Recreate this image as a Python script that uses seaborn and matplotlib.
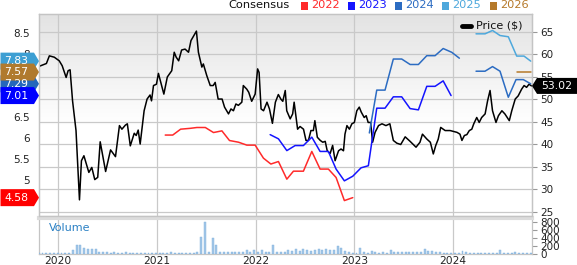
import numpy as np
import pandas as pd
import matplotlib
matplotlib.use("Agg")
import matplotlib.pyplot as plt
import seaborn as sns
from matplotlib.patches import Polygon, Rectangle
from matplotlib.lines import Line2D
from matplotlib.transforms import IdentityTransform

sns.set_theme(style="white")
plt.rcParams['font.family'] = ['DejaVu Sans']

# ---------------- data ----------------
price_t = [2019.81, 2019.88, 2019.91, 2019.96, 2020.01, 2020.04, 2020.08, 2020.10, 2020.12, 2020.145,
           2020.18, 2020.215, 2020.235, 2020.26, 2020.31, 2020.34, 2020.37, 2020.40, 2020.425, 2020.48,
           2020.53, 2020.58, 2020.62, 2020.645, 2020.68, 2020.70, 2020.73, 2020.77, 2020.79, 2020.81,
           2020.83, 2020.87, 2020.90, 2020.93, 2020.945, 2020.965, 2020.995, 2021.015, 2021.07, 2021.105,
           2021.15, 2021.175, 2021.195, 2021.22, 2021.25, 2021.285, 2021.32, 2021.345, 2021.40, 2021.42,
           2021.455, 2021.47, 2021.505, 2021.54, 2021.57, 2021.59, 2021.62, 2021.66, 2021.685, 2021.725,
           2021.75, 2021.775, 2021.80, 2021.825, 2021.86, 2021.875, 2021.91, 2021.93, 2021.96, 2021.995,
           2022.02, 2022.035, 2022.055, 2022.08, 2022.115, 2022.14, 2022.17, 2022.20, 2022.23, 2022.255,
           2022.275, 2022.30, 2022.315, 2022.35, 2022.375, 2022.39, 2022.425, 2022.45, 2022.485, 2022.51,
           2022.535, 2022.56, 2022.585, 2022.60, 2022.625, 2022.655, 2022.68, 2022.705, 2022.725, 2022.755,
           2022.78, 2022.805, 2022.84, 2022.865, 2022.89, 2022.905, 2022.925, 2022.95, 2022.975, 2023.00,
           2023.025, 2023.05, 2023.07, 2023.10, 2023.12, 2023.14, 2023.165, 2023.185, 2023.21, 2023.245,
           2023.28, 2023.32, 2023.36, 2023.395, 2023.43, 2023.47, 2023.515, 2023.565, 2023.625, 2023.665,
           2023.69, 2023.735, 2023.77, 2023.80, 2023.825, 2023.85, 2023.875, 2023.92, 2023.97, 2024.005,
           2024.04, 2024.07, 2024.09, 2024.115, 2024.14, 2024.165, 2024.19, 2024.21, 2024.24, 2024.265,
           2024.29, 2024.325, 2024.35, 2024.375, 2024.40, 2024.435, 2024.46, 2024.495, 2024.525, 2024.57,
           2024.595, 2024.63, 2024.66, 2024.695, 2024.72, 2024.745, 2024.77, 2024.795]
price_v = [57.4, 58.0, 59.7, 59.4, 58.6, 57.5, 54.9, 56.4, 56.6, 49.7,
           43.1, 27.7, 36.4, 37.5, 33.8, 34.9, 32.2, 32.7, 40.6, 34.0,
           38.8, 37.3, 44.2, 43.4, 44.3, 44.6, 39.7, 42.5, 42.0, 43.2,
           40.1, 47.5, 50.1, 51.0, 49.7, 53.1, 53.4, 55.8, 51.2, 55.0,
           56.4, 60.5, 59.4, 58.6, 61.0, 61.2, 60.5, 63.1, 65.2, 60.5,
           57.2, 57.9, 55.3, 53.1, 53.1, 53.8, 50.1, 50.1, 48.3, 46.8,
           47.9, 47.5, 49.0, 48.7, 49.4, 53.1, 52.3, 51.6, 49.6, 51.2,
           56.8, 56.0, 47.9, 47.5, 49.4, 47.9, 44.7, 49.4, 51.1, 50.1,
           49.6, 52.0, 47.5, 45.7, 46.8, 49.4, 43.4, 44.0, 43.4, 40.9,
           40.9, 43.1, 43.1, 45.3, 41.6, 40.9, 40.5, 40.7, 38.6, 38.0,
           39.8, 36.4, 38.6, 39.0, 38.6, 42.3, 44.2, 43.4, 44.6, 44.9,
           47.5, 48.3, 47.2, 46.0, 46.4, 44.9, 44.9, 40.5, 42.7, 44.2,
           44.6, 44.2, 44.6, 40.9, 40.3, 40.0, 41.7, 40.7, 39.4, 40.5,
           42.3, 41.2, 40.5, 37.9, 39.8, 41.2, 43.8, 43.1, 43.1, 42.9,
           42.7, 42.3, 40.9, 42.0, 42.2, 43.1, 43.4, 44.6, 46.0, 44.9,
           46.0, 46.8, 49.7, 52.0, 47.5, 44.9, 46.4, 47.5, 46.8, 45.3,
           47.5, 50.1, 50.8, 52.3, 53.1, 52.7, 53.4, 53.02]

c2022_t = [2021.084, 2021.16, 2021.24, 2021.337, 2021.405, 2021.49, 2021.573, 2021.658,
           2021.735, 2021.826, 2021.911, 2021.995, 2022.079, 2022.154, 2022.231, 2022.316,
           2022.383, 2022.484, 2022.569, 2022.653, 2022.737, 2022.815, 2022.899, 2022.984]
c2022_v = [6.07, 6.07, 6.21, 6.23, 6.25, 6.25, 6.13, 6.17,
           5.94, 5.90, 5.83, 5.83, 5.52, 5.38, 5.44, 5.02,
           5.21, 5.21, 5.68, 5.26, 5.26, 5.06, 4.51, 4.58]

c2023_t = [2022.147, 2022.231, 2022.316, 2022.40, 2022.484, 2022.569, 2022.653, 2022.737,
           2022.815, 2022.899, 2022.984, 2023.068, 2023.142, 2023.227, 2023.311, 2023.395,
           2023.48, 2023.565, 2023.649, 2023.734, 2023.818, 2023.90, 2023.98]
c2023_v = [6.08, 5.98, 5.70, 5.82, 5.82, 6.02, 5.68, 5.68,
           5.26, 4.98, 5.09, 5.29, 5.34, 6.71, 6.71, 6.98,
           6.98, 6.70, 6.67, 7.23, 7.23, 7.36, 7.01]

c2024a_t = [2023.152, 2023.227, 2023.311, 2023.395, 2023.48, 2023.565, 2023.649,
            2023.734, 2023.818, 2023.90, 2023.987, 2024.064]
c2024a_v = [6.12, 7.14, 7.14, 7.88, 7.88, 7.75, 7.75, 7.96, 7.96, 8.13, 8.04, 7.90]
c2024b_t = [2024.233, 2024.324, 2024.40, 2024.476, 2024.56, 2024.638, 2024.712, 2024.787]
c2024b_v = [7.59, 7.59, 7.70, 7.59, 6.97, 7.39, 7.39, 7.29]

c2025_t = [2024.233, 2024.324, 2024.40, 2024.476, 2024.56, 2024.645, 2024.719, 2024.787]
c2025_v = [8.48, 8.48, 8.56, 8.44, 8.41, 7.95, 7.95, 7.83]

c2026_t = [2024.645, 2024.719, 2024.787]
c2026_v = [7.57, 7.57, 7.57]

volume = [30, 20, 20, 20, 25, 20, 20, 25, 30, 100, 215, 235, 150,
          130, 115, 120, 60, 45, 40, 35, 40, 30, 35, 45, 30, 30,
          25, 30, 25, 30, 25, 25, 30, 25, 25, 40, 30, 35, 30,
          30, 25, 30, 40, 420, 800, 60, 390, 235, 50, 60, 55, 40,
          50, 45, 60, 100, 50, 100, 45, 100, 60, 50, 220, 60, 50,
          60, 100, 70, 130, 80, 130, 90, 80, 90, 130, 100, 130, 110,
          100, 195, 140, 70, 40, 35, 30, 160, 40, 35, 75, 40, 35,
          40, 35, 100, 40, 45, 50, 45, 45, 50, 45, 40, 130, 75,
          75, 60, 40, 35, 30, 30, 30, 35, 75, 60, 30, 30, 30,
          35, 30, 30, 30, 30, 100, 30, 30, 30, 50, 30, 30, 30,
          35]
vol_start = pd.Timestamp("2019-10-21")
vol_dates = pd.date_range(vol_start, periods=len(volume), freq="14D")
vol_t = [d.year + (d.dayofyear - 1) / 365.25 for d in vol_dates]

years = [2020, 2021, 2022, 2023, 2024]
price_ticks = [25, 30, 35, 40, 45, 50, 55, 60, 65]
eps_ticks = [5, 5.5, 6, 6.5, 8, 8.5]
vol_ticks = [0, 200, 400, 600, 800]

legend_years = ["2022", "2023", "2024", "2025", "2026"]
series_colors = ["#ff2a2a", "#1414ff", "#2c6cc2", "#4ea8dc", "#b5792a"]
badge_vals = [7.83, 7.29, 7.57, 7.01, 4.58]
badge_cols = ["#3d9fd3", "#2567bb", "#b07a2e", "#0000ff", "#ff0000"]
last_price = 53.02

# ---------------- figure ----------------
W, H = 577, 265
fig = plt.figure(figsize=(W / 100, H / 100), dpi=100)
fig.patch.set_facecolor("white")


def rect(l, t, r, b):
    return [l / W, 1 - b / H, (r - l) / W, (b - t) / H]


# gradient background axes
ax_bg = fig.add_axes(rect(39, 14, 532, 216), zorder=-5)
n = 200
g = np.ones(n)
top = int(n * 0.55)
g[:top] = np.linspace(0.89, 1.0, top)
img = np.repeat(g[:, None, None], 3, axis=2)
img = np.repeat(img, 4, axis=1)
ax_bg.imshow(img, extent=(0, 1, 0, 1), aspect="auto", interpolation="bilinear")
ax_bg.set_xlim(0, 1)
ax_bg.set_ylim(0, 1)
ax_bg.axis("off")

ax_p = fig.add_axes(rect(39, 14, 532, 216))
ax_p.patch.set_alpha(0)
ax_v = fig.add_axes(rect(39, 218, 532, 254))
ax_e = ax_p.twinx()

XL = (2019.805, 2024.80)

# price line
sns.lineplot(x=price_t, y=price_v, ax=ax_p, color="black", lw=1.1,
             estimator=None, sort=False, legend=False, zorder=5)

# consensus lines
cons = [(c2022_t, c2022_v, 0), (c2023_t, c2023_v, 1), (c2024a_t, c2024a_v, 2),
        (c2024b_t, c2024b_v, 2), (c2025_t, c2025_v, 3), (c2026_t, c2026_v, 4)]
for t, v, ci in cons:
    sns.lineplot(x=t, y=v, ax=ax_e, color=series_colors[ci], lw=1.1,
                 estimator=None, sort=False, legend=False)

# volume bars
ax_v.bar(vol_t, volume, width=0.02, color="#a3c7e8", edgecolor="#7fb0dc",
         linewidth=0.3, zorder=3)

# limits
ax_p.set_xlim(*XL)
ax_e.set_xlim(*XL)
ax_v.set_xlim(*XL)
ax_p.set_ylim(24.11, 69.0)
ax_e.set_ylim(4.143, 8.952)
ax_v.set_ylim(0, 900)

grid_c = "#c9c9c9"
spine_c = "#c4c4c4"
tick_c = "#222222"

# price axis (right)
ax_p.yaxis.set_ticks_position("right")
ax_p.set_yticks(price_ticks)
ax_p.set_yticklabels([str(v) for v in price_ticks])
ax_p.tick_params(axis="y", right=True, left=False, length=3.5, width=0.8, color="#999999",
                 labelsize=7.5, labelcolor=tick_c, pad=2.5, labelright=True, labelleft=False)
ax_p.set_xticks(years)
ax_p.tick_params(axis="x", length=0, labelbottom=False)
ax_p.grid(True, color=grid_c, lw=0.9)
ax_p.set_axisbelow(True)

# eps axis (left)
ax_e.yaxis.set_ticks_position("left")
ax_e.set_yticks(eps_ticks)
ax_e.set_yticklabels(["%g" % v for v in eps_ticks])
ax_e.tick_params(axis="y", left=True, right=False, length=0, labelsize=7.5,
                 labelcolor=tick_c, pad=6.5, labelleft=True, labelright=False)
ax_e.tick_params(axis="x", length=0, labelbottom=False)
ax_e.grid(False)
ax_e.patch.set_visible(False)

for a in (ax_p, ax_e):
    a.set_xlabel("")
    a.set_ylabel("")
    for s in a.spines.values():
        s.set_color(spine_c)
        s.set_linewidth(0.9)

# volume axis
ax_v.set_xticks(years)
ax_v.set_xticklabels([str(y) for y in years])
ax_v.tick_params(axis="x", length=0, labelsize=7.7, labelcolor=tick_c, pad=1.5)
ax_v.yaxis.set_ticks_position("right")
ax_v.set_yticks(vol_ticks)
ax_v.set_yticklabels([str(v) for v in vol_ticks])
ax_v.tick_params(axis="y", right=True, left=False, length=3.5, width=0.8, color="#999999",
                 labelsize=7.5, labelcolor=tick_c, pad=2.5)
ax_v.grid(True, axis="x", color=grid_c, lw=0.9)
ax_v.set_axisbelow(True)
for k, s in ax_v.spines.items():
    s.set_color(spine_c)
    s.set_linewidth(0.9)
ax_v.spines["top"].set_color("#dcdcdc")
ax_v.spines["top"].set_linewidth(3)
ax_v.set_facecolor("white")
ax_v.text(0.02, 0.72, "Volume", transform=ax_v.transAxes, color="#2a80c4",
          fontsize=8, ha="left", va="center")

ID = IdentityTransform()


def dpx(x, ytop):
    return (x, H - ytop)


# top legend
ty = 5.5
fig.text(*dpx(228, ty), "Consensus", transform=ID, fontsize=8.2, color="#111111",
         ha="left", va="center")
sq_x = [301, 348, 395, 442, 490]
for xq, lab, col in zip(sq_x, legend_years, series_colors):
    x0, y0 = dpx(xq, ty + 4)
    fig.add_artist(Rectangle((x0, y0), 7, 8, transform=ID, facecolor=col, edgecolor="none"))
    fig.text(*dpx(xq + 10.5, ty), lab, transform=ID, fontsize=8.2, color=col,
             ha="left", va="center")

# price legend
lx0, ly = dpx(462, 25.5)
fig.add_artist(Line2D([lx0, lx0 + 9], [ly, ly], transform=ID, color="black", lw=3.5,
                      solid_capstyle="round"))
fig.text(*dpx(476, 25), "Price ($)", transform=ID, fontsize=8, color="#111111",
         ha="left", va="center")

# left badges
fig.canvas.draw()
for val, col in zip(badge_vals, badge_cols):
    yc = ax_e.transData.transform((2020, val))[1]
    hh = 8.5
    pts = [(0.5, yc - hh), (34, yc - hh), (39, yc), (34, yc + hh), (0.5, yc + hh)]
    fig.add_artist(Polygon(pts, closed=True, transform=ID, facecolor=col, edgecolor="none"))
    fig.text(4, yc, "%.2f" % val, transform=ID, fontsize=7.8, color="white",
             ha="left", va="center")

# right price badge
yc = ax_p.transData.transform((2020, last_price))[1]
hh = 8
pts = [(532, yc), (537, yc - hh), (577, yc - hh), (577, yc + hh), (537, yc + hh)]
fig.add_artist(Polygon(pts, closed=True, transform=ID, facecolor="black", edgecolor="none"))
fig.text(541, yc, "%.2f" % last_price, transform=ID, fontsize=7.8, color="white",
         ha="left", va="center")

fig.savefig("out.png", dpi=100)
